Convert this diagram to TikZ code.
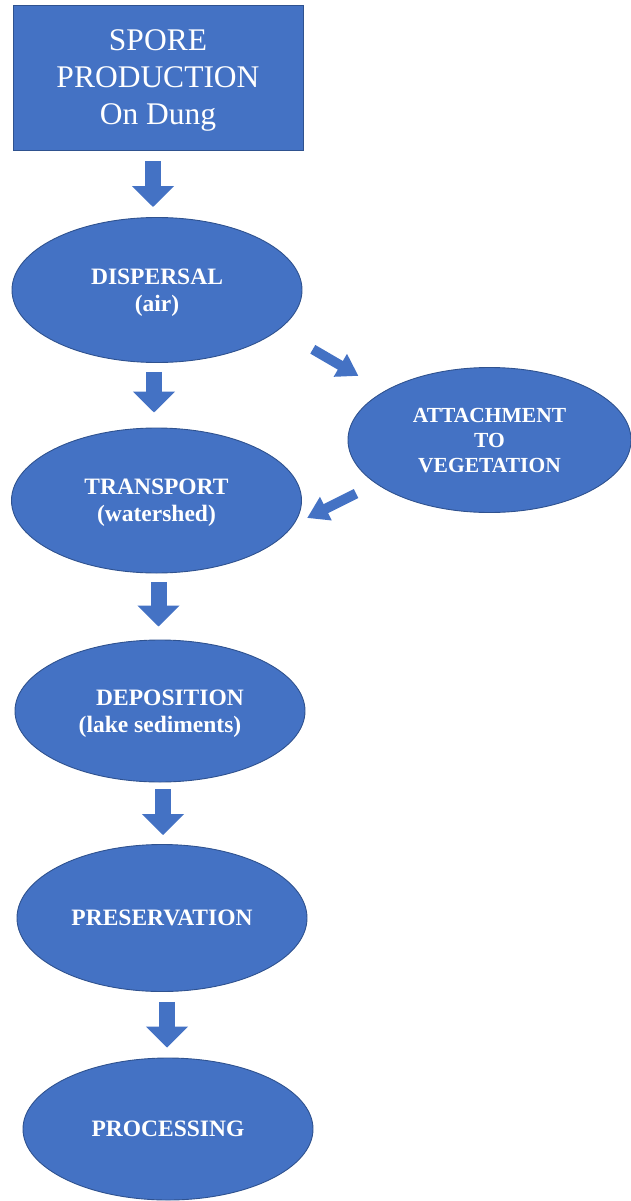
\documentclass[tikz,border=0pt]{standalone}
\usepackage{fontspec}
\setmainfont{Liberation Serif}
\usetikzlibrary{shapes.geometric}
\usetikzlibrary{arrows.meta}
\definecolor{stageblue}{HTML}{4472C4}
\definecolor{stageedge}{HTML}{2F528F}

\begin{document}
\begin{tikzpicture}[x=1pt,y=-1pt,
        stage/.style={ellipse,draw=stageedge,line width=0.9pt,fill=stageblue,text=white,
            minimum width=290pt,minimum height=145pt,inner sep=0pt,align=center,text depth=0pt,
            font=\fontsize{23.5}{27}\selectfont\bfseries},
        bigarrow/.style={stageblue,line width=16pt,-{Triangle[width=41pt,length=21pt]}},
        sidearrow/.style={stageblue,line width=10pt,-{Triangle[width=25pt,length=21pt]}}]
                \useasboundingbox (0,0) rectangle (630,1201);

                \node[rectangle,draw=stageedge,line width=0.9pt,fill=stageblue,text=white,
                    minimum width=290pt,minimum height=145pt,align=center,text depth=0pt,
                    font=\fontsize{31.5}{37}\selectfont] (spore) at (158,77.5) {SPORE\\PRODUCTION\\On Dung};

                \node[stage] (disp) at (157,290) {DISPERSAL\\(air)};
                \node[stage] (trans) at (156.5,500.5) {TRANSPORT\\(watershed)};
                \node[stage,minimum height=142pt] (depo) at (160,711) {\hspace*{20pt}DEPOSITION\\(lake sediments)};
                \node[stage,minimum height=147pt] (pres) at (162,918) {PRESERVATION};
                \node[stage,minimum height=142pt] (proc) at (168,1129) {PROCESSING};
                \node[stage,minimum width=283pt,font=\fontsize{21.5}{25}\selectfont\bfseries] (attach) at (489.5,440) {ATTACHMENT\\TO\\VEGETATION};

                \foreach \a/\b/\da/\db/\s/\e in {spore/disp/-5/-4/11/10,disp/trans/-3/-2.5/9/15,trans/depo/2/-1.5/9/13,depo/pres/3/1/7/9,pres/proc/5/-1/10/10}
                {
                    \draw[bigarrow,shorten <=\s pt,shorten >=\e pt] ([xshift=\da pt]\a.south) -- ([xshift=\db pt]\b.north);
                }

                \draw[sidearrow,shorten <=39pt,shorten >=30pt] (disp.-18) -- (attach.155);
                \draw[sidearrow,shorten <=22pt,shorten >=15pt] (attach.201) -- (trans.-10);
            \end{tikzpicture}
\end{document}
